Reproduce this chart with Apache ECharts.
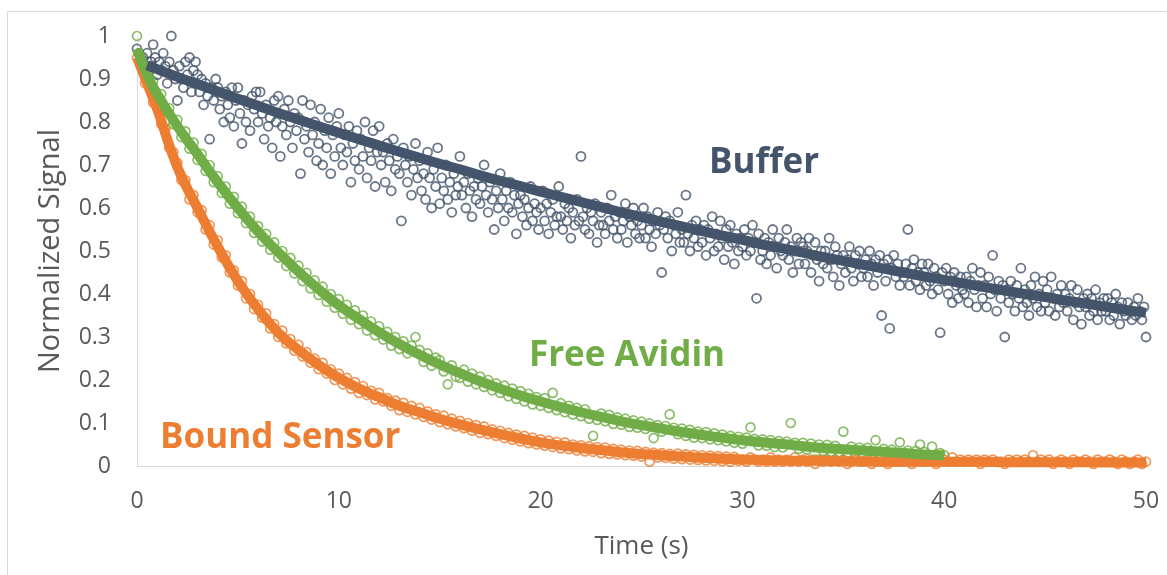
<!DOCTYPE html>
<html>
<head>
<meta charset="utf-8">
<script src="https://cdn.jsdelivr.net/npm/echarts@6/dist/echarts.min.js"></script>
<style>
html,body{margin:0;padding:0;background:#fff;}
#chart{width:1167px;height:575px;}
</style>
</head>
<body>
<div id="chart"></div>
<script>
// ---- data ----
const bufferStep = 0.1; // sampling interval of Buffer points (s)
const bufferValues = [
0.97,0.96,0.93,0.95,0.92,0.96,0.93,0.94,0.98,0.95,
0.91,0.94,0.92,0.96,0.93,0.89,0.94,1.00,0.92,0.90,
0.85,0.93,0.90,0.88,0.94,0.91,0.95,0.87,0.92,0.94,
0.91,0.87,0.90,0.84,0.89,0.86,0.76,0.88,0.85,0.90,
0.88,0.83,0.86,0.80,0.87,0.84,0.81,0.88,0.79,0.85,
0.88,0.82,0.75,0.85,0.80,0.84,0.78,0.86,0.83,0.87,
0.80,0.87,0.82,0.76,0.84,0.79,0.81,0.74,0.85,0.80,
0.86,0.72,0.79,0.83,0.77,0.85,0.80,0.74,0.82,0.78,
0.81,0.68,0.85,0.76,0.79,0.73,0.84,0.77,0.80,0.71,
0.75,0.83,0.70,0.78,0.74,0.81,0.68,0.77,0.72,0.79,
0.82,0.74,0.70,0.77,0.73,0.79,0.66,0.75,0.71,0.78,
0.69,0.76,0.72,0.80,0.67,0.74,0.71,0.78,0.65,0.73,
0.79,0.70,0.73,0.66,0.75,0.71,0.64,0.76,0.69,0.72,
0.68,0.57,0.74,0.70,0.66,0.72,0.63,0.69,0.75,0.67,
0.71,0.64,0.68,0.62,0.73,0.67,0.60,0.69,0.65,0.74,
0.61,0.67,0.64,0.70,0.62,0.66,0.59,0.68,0.63,0.65,
0.72,0.63,0.66,0.60,0.68,0.64,0.58,0.65,0.62,0.67,
0.61,0.65,0.70,0.63,0.59,0.66,0.62,0.55,0.64,0.60,
0.68,0.62,0.57,0.64,0.60,0.66,0.59,0.63,0.54,0.61,
0.63,0.58,0.62,0.56,0.60,0.65,0.57,0.61,0.59,0.55,
0.60,0.64,0.57,0.61,0.54,0.59,0.62,0.56,0.58,0.65,
0.58,0.55,0.61,0.57,0.60,0.53,0.59,0.56,0.62,0.57,
0.72,0.58,0.55,0.60,0.54,0.59,0.57,0.61,0.52,0.56,
0.59,0.56,0.54,0.60,0.57,0.63,0.55,0.58,0.53,0.59,
0.55,0.57,0.61,0.52,0.58,0.56,0.60,0.54,0.57,0.53,
0.56,0.60,0.53,0.58,0.55,0.51,0.57,0.54,0.59,0.56,
0.45,0.55,0.58,0.53,0.57,0.50,0.56,0.54,0.59,0.52,
0.55,0.52,0.63,0.54,0.50,0.56,0.53,0.57,0.51,0.55,
0.52,0.56,0.49,0.55,0.53,0.58,0.50,0.54,0.51,0.57,
0.53,0.48,0.55,0.51,0.56,0.52,0.47,0.54,0.50,0.53,
0.51,0.55,0.49,0.53,0.50,0.56,0.52,0.39,0.54,0.48,
0.50,0.53,0.47,0.52,0.49,0.55,0.51,0.46,0.53,0.50,
0.49,0.52,0.55,0.48,0.51,0.45,0.50,0.53,0.47,0.52,
0.51,0.47,0.50,0.53,0.45,0.49,0.52,0.48,0.43,0.50,
0.47,0.50,0.46,0.53,0.48,0.44,0.51,0.49,0.42,0.47,
0.49,0.45,0.48,0.51,0.46,0.43,0.49,0.47,0.50,0.44,
0.46,0.48,0.44,0.50,0.47,0.42,0.48,0.45,0.49,0.35,
0.47,0.43,0.48,0.32,0.46,0.49,0.44,0.47,0.42,0.45,
0.44,0.47,0.55,0.42,0.46,0.48,0.43,0.45,0.41,0.47,
0.45,0.42,0.47,0.43,0.40,0.46,0.44,0.41,0.31,0.45,
0.43,0.46,0.40,0.44,0.38,0.45,0.42,0.39,0.44,0.41,
0.40,0.44,0.38,0.43,0.46,0.41,0.37,0.42,0.45,0.39,
0.42,0.37,0.44,0.40,0.49,0.41,0.36,0.43,0.39,0.42,
0.30,0.41,0.38,0.43,0.40,0.36,0.42,0.39,0.46,0.37,
0.41,0.38,0.35,0.42,0.39,0.44,0.37,0.40,0.36,0.43,
0.38,0.41,0.36,0.44,0.39,0.35,0.40,0.37,0.42,0.38,
0.40,0.36,0.39,0.42,0.34,0.38,0.41,0.37,0.33,0.39,
0.37,0.40,0.35,0.39,0.36,0.41,0.34,0.38,0.36,0.39,
0.36,0.39,0.34,0.38,0.35,0.40,0.37,0.33,0.38,0.36,
0.35,0.38,0.36,0.34,0.37,0.35,0.39,0.36,0.34,0.37,
0.30
];

const avidinStep = 0.2; // sampling interval of Free Avidin points (s)
const avidinValues = [
1.00,0.95,0.925,0.885,0.895,
0.855,0.865,0.825,0.832,0.795,
0.805,0.765,0.778,0.738,0.752,
0.712,0.726,0.686,0.70,0.66,
0.674,0.635,0.65,0.61,0.626,
0.588,0.603,0.565,0.58,0.542,
0.558,0.522,0.54,0.503,0.52,
0.485,0.50,0.465,0.484,0.448,
0.466,0.43,0.449,0.413,0.432,
0.398,0.417,0.382,0.40,0.368,
0.388,0.354,0.375,0.34,0.362,
0.33,0.35,0.315,0.336,0.304,
0.325,0.294,0.312,0.28,0.30,
0.272,0.29,0.262,0.28,0.30,
0.27,0.242,0.262,0.233,0.252,
0.246,0.22,0.19,0.234,0.208,
0.205,0.224,0.196,0.215,0.19,
0.208,0.184,0.20,0.176,0.192,
0.17,0.187,0.162,0.18,0.156,
0.174,0.15,0.168,0.143,0.16,
0.14,0.158,0.135,0.17,0.13,
0.146,0.125,0.14,0.12,0.135,
0.116,0.132,0.11,0.07,0.107,
0.122,0.104,0.119,0.098,0.113,
0.096,0.11,0.091,0.106,0.089,
0.103,0.086,0.099,0.065,0.095,
0.08,0.093,0.12,0.089,0.074,
0.087,0.07,0.084,0.066,0.08,
0.065,0.079,0.062,0.076,0.06,
0.073,0.057,0.07,0.054,0.068,
0.052,0.066,0.09,0.063,0.048,
0.062,0.047,0.06,0.044,0.058,
0.043,0.057,0.10,0.054,0.04,
0.054,0.038,0.052,0.015,0.05,
0.035,0.049,0.033,0.047,0.032,
0.08,0.03,0.045,0.028,0.043,
0.027,0.042,0.026,0.06,0.024,
0.04,0.023,0.038,0.022,0.055,
0.021,0.036,0.02,0.035,0.05,
0.033,0.018,0.045,0.017,0.03,
0.025
];

const sensorStep = 0.2; // sampling interval of Bound Sensor points (s)
const sensorValues = [
0.95,0.935,0.89,0.885,0.845,
0.835,0.795,0.785,0.74,0.73,
0.705,0.665,0.665,0.62,0.63,
0.59,0.595,0.55,0.56,0.515,
0.525,0.485,0.49,0.45,0.455,
0.42,0.43,0.39,0.40,0.365,
0.375,0.345,0.355,0.32,0.33,
0.30,0.315,0.285,0.295,0.268,
0.282,0.255,0.265,0.24,0.25,
0.225,0.24,0.215,0.225,0.20,
0.215,0.19,0.205,0.18,0.195,
0.17,0.186,0.165,0.175,0.155,
0.17,0.15,0.158,0.14,0.152,
0.13,0.147,0.126,0.14,0.12,
0.135,0.114,0.127,0.108,0.12,
0.102,0.117,0.097,0.11,0.092,
0.105,0.088,0.10,0.082,0.095,
0.077,0.092,0.074,0.085,0.07,
0.082,0.065,0.077,0.061,0.073,
0.057,0.07,0.053,0.066,0.05,
0.062,0.047,0.059,0.044,0.056,
0.041,0.055,0.039,0.05,0.036,
0.048,0.034,0.046,0.033,0.044,
0.03,0.043,0.028,0.04,0.027,
0.038,0.025,0.036,0.024,0.035,
0.022,0.033,0.01,0.031,0.02,
0.03,0.019,0.028,0.017,0.029,
0.016,0.027,0.015,0.026,0.014,
0.025,0.013,0.024,0.012,0.023,
0.011,0.022,0.01,0.021,0.012,
0.015,0.01,0.02,0.015,0.01,
0.015,0.01,0.02,0.01,0.015,
0.01,0.015,0.01,0.02,0.01,
0.015,0.01,0.015,0.005,0.015,
0.01,0.015,0.01,0.015,0.01,
0.015,0.005,0.01,0.015,0.01,
0.01,0.015,0.005,0.01,0.015,
0.01,0.005,0.015,0.01,0.01,
0.015,0.01,0.005,0.01,0.015,
0.01,0.015,0.01,0.005,0.01,
0.015,0.01,0.02,0.01,0.015,
0.01,0.015,0.01,0.015,0.005,
0.015,0.01,0.015,0.01,0.01,
0.005,0.015,0.01,0.015,0.01,
0.015,0.01,0.025,0.01,0.015,
0.01,0.015,0.005,0.01,0.015,
0.01,0.005,0.015,0.01,0.01,
0.015,0.01,0.005,0.015,0.01,
0.01,0.015,0.01,0.005,0.015,
0.01,0.005,0.01,0.015,0.005,
0.01
];

// fitted curves, read at whole seconds
const bufferFitTimes = [0.5,1,2,3,4,5,6,7,8,9,10,11,12,13,14,15,16,17,18,19,20,21,22,23,24,25,26,27,28,29,30,31,32,33,34,35,36,37,38,39,40,41,42,43,44,45,46,47,48,49,50];
const bufferFit = [0.932,0.923,0.905,0.888,0.871,0.854,0.838,0.821,0.806,0.790,0.775,0.760,0.745,0.731,0.717,0.703,0.690,0.676,0.663,0.651,0.638,0.626,0.614,0.602,0.590,0.579,0.568,0.557,0.546,0.536,0.526,0.515,0.506,0.496,0.486,0.477,0.468,0.459,0.450,0.441,0.433,0.424,0.416,0.408,0.400,0.393,0.385,0.378,0.370,0.363,0.356];

const avidinFitTimes = [0,0.5,1,2,3,4,5,6,7,8,9,10,11,12,13,14,15,16,17,18,19,20,21,22,23,24,25,26,27,28,29,30,31,32,33,34,35,36,37,38,39,40];
const avidinFit = [0.97,0.91,0.865,0.79,0.725,0.66,0.60,0.545,0.497,0.452,0.411,0.374,0.342,0.311,0.284,0.259,0.236,0.216,0.197,0.180,0.164,0.150,0.137,0.125,0.114,0.104,0.095,0.087,0.079,0.072,0.066,0.060,0.055,0.051,0.046,0.042,0.039,0.036,0.033,0.030,0.027,0.025];

const sensorFitTimes = [0,0.5,1,2,3,4,5,6,7,8,9,10,11,12,13,14,15,16,17,18,19,20,21,22,23,24,25,26,27,28,29,30,31,32,33,34,35,36,37,38,39,40,41,42,43,44,45,46,47,48,49,50];
const sensorFit = [0.95,0.89,0.83,0.695,0.60,0.51,0.43,0.365,0.31,0.27,0.235,0.205,0.18,0.16,0.14,0.125,0.11,0.097,0.085,0.074,0.064,0.055,0.048,0.042,0.037,0.032,0.028,0.025,0.022,0.019,0.017,0.015,0.014,0.013,0.012,0.012,0.011,0.011,0.010,0.010,0.010,0.010,0.010,0.010,0.009,0.009,0.009,0.009,0.009,0.008,0.008,0.008];

const xTicks = [0,10,20,30,40,50];
const seriesNames = ['Buffer','Free Avidin','Bound Sensor'];
const colors = {buffer:'#44546A', avidin:'#70AD47', sensor:'#ED7D31'};

// ---- build ----
function pts(step, vals){ return vals.map((v,i)=>[+(i*step).toFixed(2), v]); }
function pairs(ts, vals){ return ts.map((t,i)=>[t, vals[i]]); }

const FONT = '"Open Sans", "Segoe UI", sans-serif';
function scatter(name, data, color, size, bw){
  return {
    name, type:'scatter', data, symbol:'circle', symbolSize:size,
    itemStyle:{color:'rgba(0,0,0,0)', borderColor:color, borderWidth:bw},
    emphasis:{disabled:true}, silent:true
  };
}
function fit(name, data, color, width){
  return {
    name: name+' fit', type:'line', data, smooth:true, showSymbol:false, symbol:'none',
    lineStyle:{color, width, cap:'butt'}, emphasis:{disabled:true}, silent:true
  };
}

const chart = echarts.init(document.getElementById('chart'), null, {renderer:'canvas'});
chart.setOption({
  animation:false,
  backgroundColor:'#ffffff',
  grid:{left:137, right:21, top:36, bottom:109, containLabel:false},
  xAxis:{
    type:'value', min:xTicks[0], max:xTicks[xTicks.length-1], interval:10,
    axisLine:{show:true, lineStyle:{color:'#D9D9D9', width:1}},
    axisTick:{show:false}, splitLine:{show:false},
    axisLabel:{color:'#595959', fontSize:23, fontFamily:FONT, margin:24},
    name:'Time (s)', nameLocation:'middle', nameGap:68,
    nameTextStyle:{color:'#595959', fontSize:26, fontFamily:FONT}
  },
  yAxis:{
    type:'value', min:0, max:1, interval:0.1,
    axisLine:{show:true, lineStyle:{color:'#D9D9D9', width:1}},
    axisTick:{show:false}, splitLine:{show:false},
    axisLabel:{color:'#595959', fontSize:23, fontFamily:FONT, margin:26,
      formatter:v=>String(+v.toFixed(1))},
    name:'Normalized Signal', nameLocation:'middle', nameGap:72,
    nameTextStyle:{color:'#595959', fontSize:29, fontFamily:FONT}
  },
  graphic:[
    {type:'rect', shape:{x:7.5, y:11.5, width:1200, height:600}, style:{fill:'none', stroke:'#D9D9D9', lineWidth:1}, silent:true, z:-10},
    {type:'text', x:709, y:163, style:{text:seriesNames[0], fill:colors.buffer, font:'bold 35px '+FONT, verticalAlign:'middle'}, silent:true},
    {type:'text', x:529, y:356, style:{text:seriesNames[1], fill:colors.avidin, font:'bold 35px '+FONT, verticalAlign:'middle'}, silent:true},
    {type:'text', x:160, y:438, style:{text:seriesNames[2], fill:colors.sensor, font:'bold 35px '+FONT, verticalAlign:'middle'}, silent:true}
  ],
  series:[
    scatter(seriesNames[2], pts(sensorStep, sensorValues), colors.sensor, 9, 1.7),
    fit(seriesNames[2], pairs(sensorFitTimes, sensorFit), colors.sensor, 10),
    scatter(seriesNames[1], pts(avidinStep, avidinValues), colors.avidin, 9, 1.7),
    fit(seriesNames[1], pairs(avidinFitTimes, avidinFit), colors.avidin, 10),
    scatter(seriesNames[0], pts(bufferStep, bufferValues), colors.buffer, 9, 1.8),
    fit(seriesNames[0], pairs(bufferFitTimes, bufferFit), colors.buffer, 10)
  ]
});
</script>
</body>
</html>
